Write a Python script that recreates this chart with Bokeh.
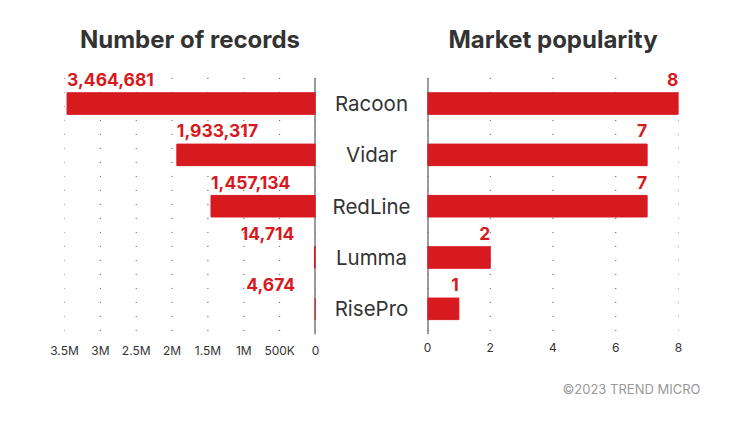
from bokeh.plotting import figure
from bokeh.layouts import row
from bokeh.models import ColumnDataSource, Range1d, FixedTicker, Label, Title
from bokeh.core.properties import value
from bokeh.embed import file_html
from bokeh.resources import INLINE

# data
families = ["Racoon", "Vidar", "RedLine", "Lumma", "RisePro"]
records = [3464681, 1933317, 1457134, 14714, 4674]
popularity = [8, 7, 7, 2, 1]
record_ticks = [0, 500000, 1000000, 1500000, 2000000, 2500000, 3000000, 3500000]
record_tick_labels = ["0", "500K", "1M", "1.5M", "2M", "2.5M", "3M", "3.5M"]
popularity_ticks = [0, 2, 4, 6, 8]

RED = "#d71920"
DARK = "#333333"
FONT = "Inter"

# row index of each family, first one on top
rows = list(range(len(families)))
src = ColumnDataSource(data=dict(row=rows, family=families, records=records, popularity=popularity))

H = 420
TOP, BOTTOM = 62, 86
first, last = -0.5, len(families) - 0.5   # edges of the bar rows


def y_range():
    # a bit of room above the first row for its value label
    return Range1d(last, first - 0.3)


def style(p, title, ticks):
    p.title.text = title
    p.title.text_font = FONT
    p.title.text_font_size = "24px"
    p.title.text_font_style = "bold"
    p.title.text_color = DARK
    p.title.align = "center"
    p.title.vertical_align = "top"
    p.title.standoff = 14
    p.yaxis.visible = False
    p.grid.grid_line_color = None
    p.xaxis.ticker = FixedTicker(ticks=ticks)
    p.xaxis.axis_line_color = None
    p.xaxis.major_tick_line_color = None
    p.xaxis.minor_tick_line_color = None
    p.xaxis.major_tick_out = 0
    p.xaxis.major_tick_in = 0
    p.xaxis.major_label_standoff = 8
    p.xaxis.major_label_text_font = FONT
    p.xaxis.major_label_text_font_size = "12px"
    p.xaxis.major_label_text_color = DARK
    p.outline_line_color = None
    # dotted grid and the zero line only span the bar rows
    p.segment(x0=ticks, x1=ticks, y0=first, y1=last, line_color="#444444", line_dash="1 13")
    p.segment(x0=0, x1=0, y0=first, y1=last, line_color="#3a3a3a", line_width=2)


def value_label(p, x, y, text, align, dx=0):
    p.add_layout(Label(x=x, y=y, text=text, text_align=align, x_offset=dx, y_offset=24,
                       text_baseline="middle", text_font=FONT, text_font_style="bold",
                       text_font_size="17.5px", text_color=RED))


# left: number of records
left = figure(width=325, height=H, y_range=y_range(), x_range=Range1d(3500000, 0),
              output_backend="svg", toolbar_location=None,
              min_border_left=64, min_border_right=10, min_border_top=TOP, min_border_bottom=BOTTOM)
style(left, "Number of records", record_ticks)
left.xaxis.major_label_overrides = {t: l for t, l in zip(record_ticks, record_tick_labels)}
left.hbar(y="row", left=0, right="records", height=0.42, color=RED, source=src)
for i, r in zip(rows, records):
    if r > 200000:
        value_label(left, r, i, f"{r:,}", "left")
    else:
        value_label(left, r, i, f"{r:,}", "right", dx=-20)

# middle: family names
mid = figure(width=92, height=H, y_range=y_range(), x_range=Range1d(-1, 1),
             output_backend="svg", toolbar_location=None,
             min_border_left=0, min_border_right=0, min_border_top=TOP, min_border_bottom=BOTTOM)
mid.axis.visible = False
mid.grid.grid_line_color = None
mid.outline_line_color = None
mid.text(x=[0] * len(families), y=rows, text=families, text_align="center",
         text_baseline="middle", text_font=value(FONT), text_font_size="20.5px", text_color=DARK)

# right: market popularity
right = figure(width=301, height=H, y_range=y_range(), x_range=Range1d(0, 8),
               output_backend="svg", toolbar_location=None,
               min_border_left=10, min_border_right=40, min_border_top=TOP, min_border_bottom=BOTTOM)
style(right, "Market popularity", popularity_ticks)
right.hbar(y="row", left=0, right="popularity", height=0.42, color=RED, source=src)
for i, v in zip(rows, popularity):
    value_label(right, v, i, str(v), "right")
right.add_layout(Title(text="©2023 TREND MICRO", align="right", offset=-22, standoff=48,
                       text_font=FONT, text_font_size="13px", text_font_style="normal",
                       text_color="#999999"), "below")

p = row(left, mid, right)
open("out.html", "w").write(file_html(p, INLINE))
